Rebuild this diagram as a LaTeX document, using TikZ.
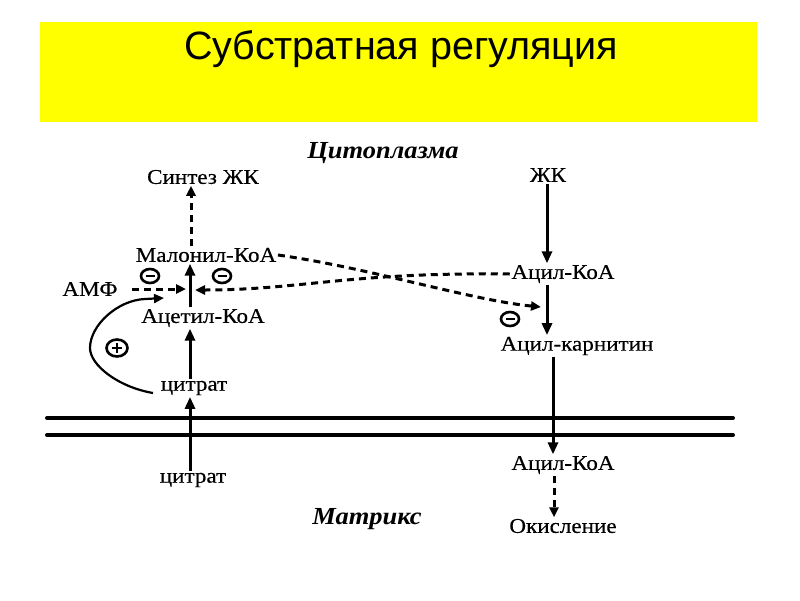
\documentclass[tikz,border=0pt]{standalone}
\usepackage{fontspec}
\newfontfamily\titlefont{Liberation Sans}
\newfontfamily\labfont[FakeStretch=1.1,FakeBold=0.3]{Liberation Serif}
\newfontfamily\regfont[FakeStretch=1.08]{Liberation Serif}
\usetikzlibrary{arrows.meta,shapes.geometric}
\definecolor{ylw}{RGB}{255,255,0}
\tikzset{
  lbl/.style={inner sep=1.5pt, font=\labfont\fontsize{21}{24}\selectfont},
  region/.style={inner sep=1pt, font=\regfont\bfseries\itshape\fontsize{24.5}{28}\selectfont},
  solidarrow/.style={line width=3pt, -{Triangle[length=12pt,width=10pt]}},
  dasharrow/.style={line width=3pt, dash pattern=on 7pt off 5pt, -{Triangle[length=10pt,width=9pt]}},
  membrane/.style={line width=4pt, line cap=round},
  inhib/.style={ellipse, draw, line width=2.6pt, minimum width=18pt, minimum height=14pt, inner sep=0pt},
  activ/.style={ellipse, draw, line width=2.6pt, minimum width=21pt, minimum height=17pt, inner sep=0pt},
  sign/.style={line width=2.6pt},
  curvearrow/.style={line width=2.2pt, -{Triangle[length=10pt,width=9pt]}}
}
\begin{document}
\begin{tikzpicture}[x=1pt,y=-1pt]
\useasboundingbox (0,0) rectangle (800,600);
\fill[white] (0,0) rectangle (800,600);
% title banner
\fill[ylw] (40,22) rectangle (757,122);
\node[anchor=base, inner sep=0pt, font=\titlefont\fontsize{39.5}{44}\selectfont] (title) at (401,59) {Субстратная регуляция};

% region labels
\node[region] (cyto) at (383,153) {Цитоплазма};
\node[region] (matrix) at (367,519) {Матрикс};

% left pathway
\node[lbl] (sintez) at (203,177) {Синтез ЖК};
\node[lbl] (malonil) at (206,255) {Малонил-КоА};
\node[lbl] (amf) at (90,289) {АМФ};
\node[lbl] (acetyl) at (203,318) {Ацетил-КоА};
\node[lbl] (citrat1) at (194,388) {цитрат};
\node[lbl] (citrat2) at (193,480) {цитрат};

% right pathway
\node[lbl] (zk) at (548,175) {ЖК};
\node[lbl] (acylkoa1) at (563,274) {Ацил-КоА};
\node[lbl] (acylcarn) at (577,346) {Ацил-карнитин};
\node[lbl] (acylkoa2) at (563,465) {Ацил-КоА};
\node[lbl] (okisl) at (563,526) {Окисление};

% membrane
\coordinate (m1l) at (47,418); \coordinate (m1r) at (733,418);
\coordinate (m2l) at (47,435); \coordinate (m2r) at (733,435);
\draw[membrane] (m1l) -- (m1r);
\draw[membrane] (m2l) -- (m2r);

% vertical arrows left
\draw[dasharrow] (malonil.north -| 191,0) -- (sintez.south -| 191,0);
\draw[solidarrow] (acetyl.north -| 190,0) -- (malonil.south -| 190,0);
\draw[solidarrow] (citrat1.north -| 190,0) -- (acetyl.south -| 190,0);
\draw[solidarrow] (citrat2.north -| 190,0) -- (citrat1.south -| 190,0);

% vertical arrows right
\draw[solidarrow] (zk.south -| 547,0) -- (acylkoa1.north -| 547,0);
\draw[solidarrow] (acylkoa1.south -| 547,0) -- (acylcarn.north -| 547,0);
\draw[solidarrow] (acylcarn.south -| 553,0) -- (acylkoa2.north -| 553,0);
\draw[dasharrow] (acylkoa2.south -| 554,0) -- (okisl.north -| 554,0);

% AMF dashed arrow
\coordinate (amfstart) at (132,289);
\coordinate (amftip) at (186,289);
\draw[dasharrow] (amfstart) -- (amftip);

% acyl-CoA inhibition back to acetyl carboxylation
\coordinate (leftip) at (195,290);
\draw[dasharrow] (acylkoa1.west) .. controls (350,272) and (300,290) .. (leftip);

% malonyl-CoA inhibition of CPT
\coordinate (cpttip) at (541,307);
\draw[dasharrow] (malonil.east) .. controls (370,268) and (470,300) .. (cpttip);

% inhibitor signs
\node[inhib] (minus1) at (150,276) {};
\draw[sign] ([xshift=-4.5pt]minus1.center) -- ([xshift=4.5pt]minus1.center);
\node[inhib] (minus2) at (222,276) {};
\draw[sign] ([xshift=-4.5pt]minus2.center) -- ([xshift=4.5pt]minus2.center);
\node[inhib] (minus3) at (510,319) {};
\draw[sign] ([xshift=-4.5pt]minus3.center) -- ([xshift=4.5pt]minus3.center);

% citrate activation curve
\coordinate (cstart) at (153,393);
\coordinate (ctip) at (164,298);
\draw[curvearrow] (cstart) .. controls (118,387) and (90,365) .. (90,348) .. controls (90,325) and (118,300) .. (145,299) -- (ctip);
\node[activ] (plus) at (117,348) {};
\draw[sign] ([xshift=-5pt]plus.center) -- ([xshift=5pt]plus.center);
\draw[sign] ([yshift=-5pt]plus.center) -- ([yshift=5pt]plus.center);
\end{tikzpicture}
\end{document}
